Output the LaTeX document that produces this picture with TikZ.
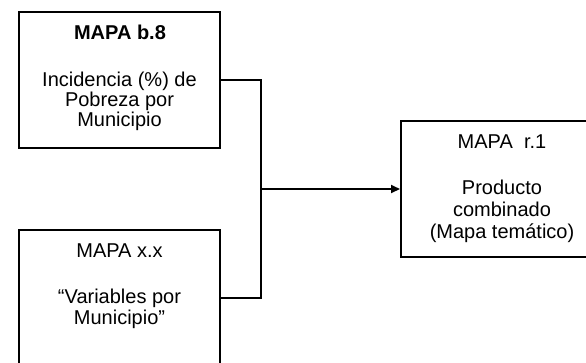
\documentclass[tikz,border=0pt]{standalone}
\usepackage{fontspec}
\setmainfont{Liberation Sans}
\usetikzlibrary{arrows.meta}
\begin{document}
\begin{tikzpicture}[x=1pt,y=-1pt,
  mapbox/.style={draw=black,line width=2pt,fill=white,inner sep=0pt},
  txt/.style={anchor=base,inner sep=0pt,font=\fontsize{20}{20}\selectfont},
  conn/.style={draw=black,line width=2pt}]
\useasboundingbox (0,0) rectangle (586,362);
\clip (0,0) rectangle (586,362);
\fill[white] (0,0) rectangle (586,362);
% boxes
\node[mapbox,minimum width=201pt,minimum height=136pt] (b1) at (119.5,80) {};
\node[mapbox,minimum width=201pt,minimum height=136pt] (b2) at (119.5,298) {};
\node[mapbox,minimum width=202pt,minimum height=136pt] (b3) at (502,189) {};
% texts box 1
\node[txt,font=\fontsize{20}{20}\selectfont\bfseries] (t1a) at (120,39) {MAPA b.8};
\node[txt] (t1b) at (119.5,86) {Incidencia (\%) de};
\node[txt] (t1c) at (119.5,106) {Pobreza por};
\node[txt] (t1d) at (119.5,126) {Municipio};
% texts box 2
\node[txt] (t2a) at (119.5,257) {MAPA x.x};
\node[txt] (t2b) at (119.5,303) {“Variables por};
\node[txt] (t2c) at (119.5,324) {Municipio”};
% texts box 3
\node[txt] (t3a) at (502,148) {MAPA\ \ r.1};
\node[txt] (t3b) at (502,194) {Producto};
\node[txt] (t3c) at (502,216) {combinado};
\node[txt] (t3d) at (502,238) {(Mapa temático)};
% connectors
\coordinate (j) at (261,189);
\draw[conn] (b1.east) -| (j) |- (b2.east);
\draw[conn,-{Triangle[length=9pt,width=8pt]}] (j) -- (b3.west);
\end{tikzpicture}
\end{document}
